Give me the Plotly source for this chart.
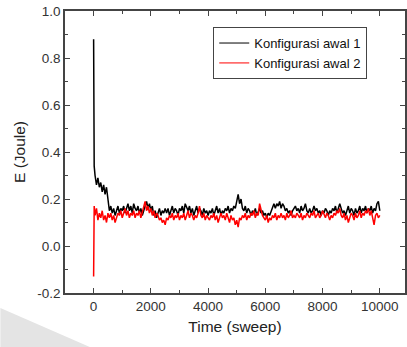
import plotly.graph_objects as go

# Time (sweep) sample points
time_sweep = [0, 10, 20] + list(range(50, 10001, 50))

# Konfigurasi awal 1 (black)
energy_1 = [0.88, 0.45, 0.34,
    0.30, 0.26, 0.29, 0.25, 0.27, 0.23, 0.26, 0.22, 0.25, 0.20,
    0.15, 0.17, 0.14, 0.16, 0.13, 0.15, 0.17, 0.14, 0.16, 0.15,
    0.17, 0.14, 0.16, 0.18, 0.15, 0.17, 0.14, 0.18, 0.16, 0.15,
    0.17, 0.14, 0.16, 0.13, 0.15, 0.17, 0.19, 0.16, 0.18, 0.15,
    0.17, 0.13, 0.15, 0.12, 0.14, 0.16, 0.13, 0.15, 0.14, 0.16,
    0.14, 0.16, 0.13, 0.15, 0.17, 0.14, 0.16, 0.15, 0.13, 0.16,
    0.15, 0.17, 0.14, 0.18, 0.16, 0.15, 0.17, 0.14, 0.16, 0.13,
    0.15, 0.17, 0.14, 0.16, 0.15, 0.13, 0.16, 0.14, 0.15, 0.13,
    0.15, 0.14, 0.16, 0.13, 0.15, 0.17, 0.14, 0.16, 0.13, 0.15,
    0.14, 0.16, 0.15, 0.17, 0.14, 0.16, 0.15, 0.17, 0.16, 0.19,
    0.22, 0.18, 0.20, 0.16, 0.15, 0.17, 0.14, 0.16, 0.15, 0.13,
    0.15, 0.14, 0.16, 0.13, 0.15, 0.16, 0.14, 0.15, 0.13, 0.14,
    0.12, 0.14, 0.13, 0.15, 0.17, 0.18, 0.16, 0.18, 0.17, 0.19,
    0.16, 0.18, 0.17, 0.15, 0.16, 0.14, 0.15, 0.13, 0.15, 0.16,
    0.17, 0.15, 0.16, 0.14, 0.17, 0.15, 0.16, 0.18, 0.15, 0.14,
    0.16, 0.14, 0.15, 0.17, 0.15, 0.16, 0.14, 0.15, 0.13, 0.15,
    0.14, 0.16, 0.15, 0.13, 0.15, 0.14, 0.16, 0.15, 0.17, 0.14,
    0.16, 0.18, 0.16, 0.14, 0.15, 0.13, 0.15, 0.17, 0.14, 0.16,
    0.15, 0.13, 0.16, 0.14, 0.15, 0.17, 0.14, 0.16, 0.15, 0.17,
    0.14, 0.16, 0.15, 0.17, 0.14, 0.16, 0.15, 0.18, 0.19, 0.15]

# Konfigurasi awal 2 (red)
energy_2 = [-0.13, 0.10, 0.17,
    0.13, 0.16, 0.11, 0.14, 0.12, 0.15, 0.11, 0.13, 0.10, 0.14,
    0.12, 0.14, 0.11, 0.13, 0.10, 0.12, 0.14, 0.13, 0.15, 0.12,
    0.14, 0.16, 0.13, 0.15, 0.12, 0.14, 0.13, 0.15, 0.12, 0.14,
    0.13, 0.15, 0.12, 0.14, 0.16, 0.19, 0.15, 0.17, 0.14, 0.16,
    0.13, 0.15, 0.12, 0.14, 0.13, 0.11, 0.12, 0.10, 0.11, 0.09,
    0.12, 0.11, 0.13, 0.12, 0.14, 0.11, 0.13, 0.12, 0.14, 0.11,
    0.13, 0.12, 0.14, 0.11, 0.13, 0.15, 0.12, 0.14, 0.13, 0.11,
    0.13, 0.12, 0.14, 0.17, 0.13, 0.12, 0.14, 0.11, 0.13, 0.12,
    0.11, 0.13, 0.12, 0.14, 0.11, 0.13, 0.10, 0.12, 0.14, 0.12,
    0.13, 0.11, 0.14, 0.12, 0.10, 0.13, 0.11, 0.12, 0.09, 0.11,
    0.08, 0.12, 0.11, 0.13, 0.12, 0.14, 0.11, 0.13, 0.12, 0.14,
    0.13, 0.15, 0.12, 0.14, 0.13, 0.18, 0.15, 0.13, 0.12, 0.11,
    0.13, 0.10, 0.12, 0.11, 0.13, 0.12, 0.14, 0.11, 0.13, 0.12,
    0.14, 0.12, 0.13, 0.11, 0.14, 0.12, 0.13, 0.15, 0.12, 0.13,
    0.12, 0.14, 0.13, 0.12, 0.14, 0.11, 0.13, 0.12, 0.14, 0.13,
    0.12, 0.14, 0.13, 0.15, 0.12, 0.13, 0.14, 0.12, 0.13, 0.15,
    0.13, 0.12, 0.14, 0.13, 0.11, 0.13, 0.12, 0.14, 0.13, 0.15,
    0.14, 0.16, 0.13, 0.12, 0.14, 0.11, 0.13, 0.10, 0.12, 0.14,
    0.13, 0.11, 0.14, 0.12, 0.13, 0.15, 0.12, 0.14, 0.13, 0.15,
    0.14, 0.16, 0.13, 0.15, 0.12, 0.09, 0.13, 0.14, 0.12, 0.13]

series_names = ["Konfigurasi awal 1", "Konfigurasi awal 2"]
series_colors = ["#000000", "#ff0000"]

# Tick labels
x_tick_vals = [0, 2000, 4000, 6000, 8000, 10000]
x_tick_text = ["0", "2000", "4000", "6000", "8000", "10000"]
y_tick_vals = [-0.2, 0.0, 0.2, 0.4, 0.6, 0.8, 1.0]
y_tick_text = ["-0.2", "0.0", "0.2", "0.4", "0.6", "0.8", "1.0"]

fig = go.Figure()
for name, vals, col in zip(series_names, [energy_1, energy_2], series_colors):
    fig.add_trace(go.Scatter(x=time_sweep, y=vals, mode="lines", name=name,
                             showlegend=False, line=dict(color=col, width=1.5)))
# thin legend samples
for name, col in zip(series_names, series_colors):
    fig.add_trace(go.Scatter(x=[None], y=[None], mode="lines", name=name,
                             line=dict(color=col, width=1)))

font_family = "Liberation Sans, Arial, sans-serif"
axis_common = dict(showline=True, linecolor="#444444", linewidth=1.5, mirror="ticks",
                   ticks="inside", ticklen=5, tickwidth=1.2, tickcolor="#444444",
                   showgrid=False, zeroline=False,
                   tickfont=dict(family=font_family, size=13.5, color="#333333"))

fig.update_layout(
    width=407, height=347,
    margin=dict(l=65, r=0, t=11, b=54),
    paper_bgcolor="white", plot_bgcolor="white",
    font=dict(family=font_family, color="#222222"),
    xaxis=dict(range=[-1000, 10880], tickmode="array", tickvals=x_tick_vals, ticktext=x_tick_text,
               minor=dict(dtick=1000, tick0=0, ticks="inside", ticklen=3, tickcolor="#444444"),
               title=dict(text="Time (sweep)", font=dict(size=15.5, family=font_family), standoff=8),
               **axis_common),
    yaxis=dict(range=[-0.2, 1.0], tickmode="array", tickvals=y_tick_vals, ticktext=y_tick_text,
               minor=dict(dtick=0.1, tick0=0, ticks="inside", ticklen=3, tickcolor="#444444"),
               title=dict(text="E (Joule)", font=dict(size=15.5, family=font_family), standoff=8),
               **axis_common),
    legend=dict(x=0.436, y=0.943, xanchor="left", yanchor="top",
                bgcolor="white", bordercolor="#444444", borderwidth=1,
                font=dict(family=font_family, size=13, color="#111111"),
                tracegroupgap=0, itemwidth=30),
    showlegend=True,
    shapes=[dict(type="path", xref="paper", yref="paper", layer="below",
                 path="M -0.19,-0.053 L 0.073,-0.1915 L -0.19,-0.1915 Z",
                 fillcolor="#e4e4e4", line=dict(width=0))],
)

fig.write_html("out.html")
